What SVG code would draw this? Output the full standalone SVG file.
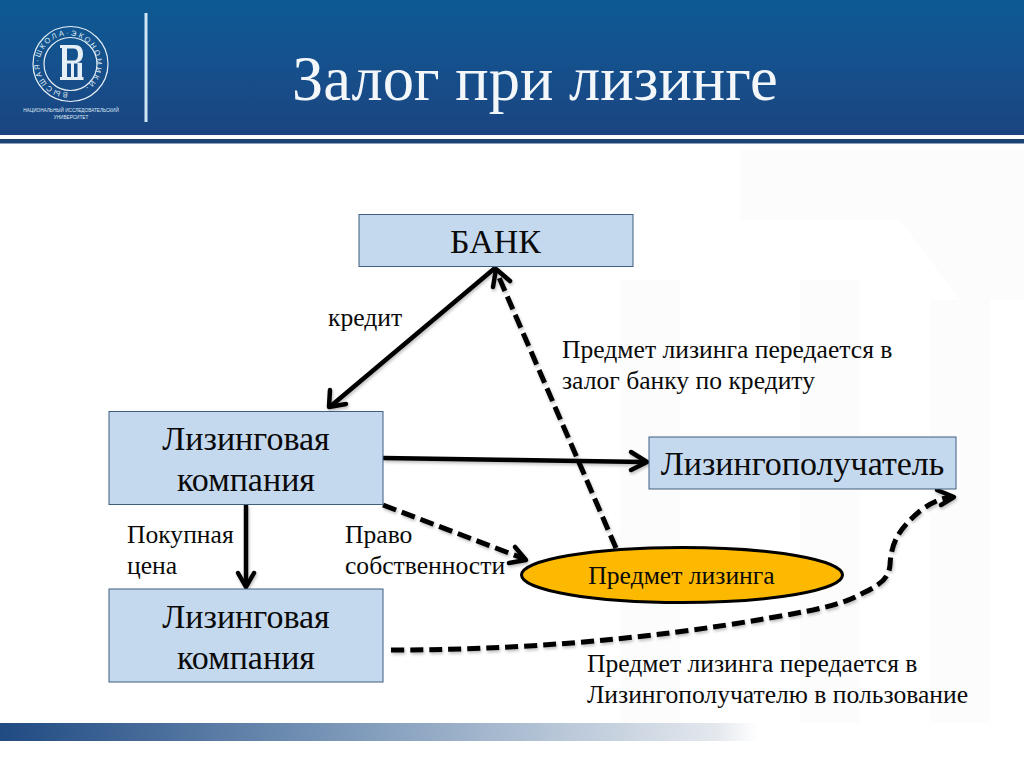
<svg xmlns="http://www.w3.org/2000/svg" xmlns:xlink="http://www.w3.org/1999/xlink" width="1024" height="768" viewBox="0 0 1024 768">
<style>
.t{font-family:"Liberation Serif","Times New Roman",serif;fill:#0a0a0a}
.l{font-size:25.600px}
.b{font-size:34px}
.box{fill:#c5d9ee;stroke:#3f5f80;stroke-width:1}
.c{fill:none;stroke:#000;stroke-width:4.500}
.d{stroke-dasharray:14 6;stroke-width:5}
.h{fill:none;stroke:#000;stroke-width:4.500;stroke-linecap:round;stroke-linejoin:round}
.w{font-family:"Liberation Sans",Arial,sans-serif;fill:#dfe8f2}
</style>
<defs>
<linearGradient id="hd" x1="0" y1="0" x2="0" y2="1"><stop offset="0" stop-color="#0d5a94"/><stop offset="0.5" stop-color="#15508c"/><stop offset="1" stop-color="#1b4480"/></linearGradient>
<linearGradient id="ft" x1="0" y1="0" x2="1" y2="0"><stop offset="0" stop-color="#1f4a82"/><stop offset="0.35" stop-color="#7f9bbb"/><stop offset="0.7" stop-color="#e4e8ee"/><stop offset="0.74" stop-color="#fff"/></linearGradient>
<path id="ring" d="M68 92.400A28.500 28.500 0 1 1 68.010 92.400"/>
<filter id="sh" x="-5%" y="-5%" width="110%" height="110%"><feDropShadow dx="1" dy="2" stdDeviation="1.500" flood-color="#000" flood-opacity="0.250"/></filter>
</defs>
<rect width="1024" height="768" fill="#fff"/>
<g id="watermark" fill="#fcfcfc">
<rect x="620" y="280" width="60" height="450"/>
<rect x="800" y="280" width="60" height="450"/>
<rect x="930" y="300" width="60" height="430"/>
<path d="M740 150H1024V300H960L900 220H740Z"/>
</g>
<g id="header">
<rect width="1024" height="135" fill="url(#hd)"/>
<rect y="139" width="1024" height="4.500" fill="#1d4274"/>
<rect x="144.500" y="13" width="3" height="109" fill="#cfe6f5"/>
<g id="logo" fill="none" stroke="#e6eef6">
<circle cx="70.500" cy="64" r="37.500" stroke-width="1.200"/>
<circle cx="70.500" cy="64" r="26.500" stroke-width="1.200"/>
<path fill-rule="evenodd" d="M60 45H75Q83 45 83 54Q83 61 77 62.500L82 63V77H83.500V80H60V77H62V48H60ZM67 48.500V60.500H74Q78 60.500 78 54.500Q78 48.500 74 48.500ZM67 63.500V77H71V63.500ZM74 63.500V77H77.500V63.500Z" fill="#e6eef6" stroke="none"/>
<text class="w" font-size="7.600" stroke="none" letter-spacing="1.900"><textPath xlink:href="#ring" href="#ring">ВЫСШАЯ·ШКОЛА·ЭКОНОМИКИ·</textPath></text>
</g>
<text class="w" x="71" y="112" font-size="4.700" text-anchor="middle">НАЦИОНАЛЬНЫЙ ИССЛЕДОВАТЕЛЬСКИЙ</text>
<text class="w" x="71" y="119" font-size="4.700" text-anchor="middle">УНИВЕРСИТЕТ</text>
<text x="292" y="100" font-family="Liberation Serif,serif" font-size="62.500" fill="#f4f7fa">Залог при лизинге</text>
</g>
<rect id="footer" y="723" width="1024" height="18" fill="url(#ft)"/>

<g id="connectors" filter="url(#sh)">
<g id="c1"><path class="c" d="M495 268L332 405"/><path class="h" d="M330 390L329 407L346 404"/></g>
<g id="c2"><path class="c d" d="M616 548L498 275"/><path class="h" d="M493 287L496 269L510 281"/></g>
<g id="c3"><path class="c" d="M383 458L644 462"/><path class="h" d="M631 452L647 462L631 470"/></g>
<g id="c4"><path class="c" d="M246 505V584"/><path class="h" d="M238 573L246 587L254 573"/></g>
<g id="c5"><path class="c d" d="M383 505L522 558"/><path class="h" d="M515 547L526 560L509 563"/></g>
<g id="c6"><path class="c d" style="stroke-dasharray:13 6" d="M391 650C560 650 700 632 813 610C840 604 850 600 863 593C885 583 889 575 890 565C891 545 897 530 920 511C932 502 940 499 950 497"/><path class="h" d="M937 490L954 497L941 505"/></g>
</g>

<g id="bank"><rect class="box" x="359" y="214.500" width="274" height="52"/><text class="t b" x="495.500" y="253" text-anchor="middle">БАНК</text></g>
<g id="lc1"><rect class="box" x="109" y="411.500" width="274" height="93"/><text class="t b" x="246" y="450" text-anchor="middle">Лизинговая</text><text class="t b" x="246" y="491" text-anchor="middle">компания</text></g>
<g id="lc2"><rect class="box" x="109" y="589" width="274" height="93"/><text class="t b" x="246" y="628" text-anchor="middle">Лизинговая</text><text class="t b" x="246" y="669" text-anchor="middle">компания</text></g>
<g id="lessee"><rect class="box" x="649" y="437" width="307" height="52"/><text class="t b" x="802.500" y="475" text-anchor="middle">Лизингополучатель</text></g>
<g id="item"><ellipse cx="682" cy="575" rx="160.500" ry="27.500" fill="#fdb900" stroke="#000" stroke-width="3"/><text class="t l" x="681.500" y="584" text-anchor="middle">Предмет лизинга</text></g>

<g id="labels">
<text class="t l" x="328" y="326">кредит</text>
<text class="t l" x="562" y="358">Предмет лизинга передается в</text>
<text class="t l" x="562" y="389">залог банку по кредиту</text>
<text class="t l" x="127" y="543">Покупная</text>
<text class="t l" x="127" y="574">цена</text>
<text class="t l" x="345" y="543">Право</text>
<text class="t l" x="345" y="574">собственности</text>
<text class="t l" x="587" y="672">Предмет лизинга передается в</text>
<text class="t l" x="587" y="703">Лизингополучателю в пользование</text>
</g>
</svg>
